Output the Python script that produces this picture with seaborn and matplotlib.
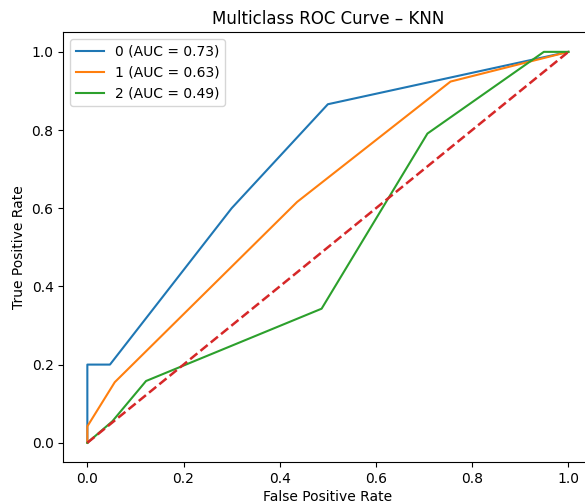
import numpy as np
import pandas as pd
import matplotlib
matplotlib.use("Agg")
import matplotlib.pyplot as plt
import seaborn as sns

# roc points, one class at a time
fpr_0 = [0.0, 0.0, 0.047, 0.30, 0.50, 1.0]
tpr_0 = [0.0, 0.20, 0.20, 0.60, 0.866, 1.0]

fpr_1 = [0.0, 0.0, 0.057, 0.436, 0.755, 1.0]
tpr_1 = [0.0, 0.042, 0.155, 0.616, 0.924, 1.0]

fpr_2 = [0.0, 0.052, 0.122, 0.487, 0.707, 0.949, 1.0]
tpr_2 = [0.0, 0.055, 0.158, 0.343, 0.791, 1.0, 1.0]

classes = ["0", "1", "2"]
auc_vals = [0.73, 0.63, 0.49]
colors = ["tab:blue", "tab:orange", "tab:green"]

fig = plt.figure(figsize=(5.85, 5.04), dpi=100)
# axes runs a bit past the right edge, like the original crop
ax = fig.add_axes([0.1082, 0.0827, 0.9045, 0.8532])

for cls, auc, fpr, tpr, col in zip(classes, auc_vals, [fpr_0, fpr_1, fpr_2], [tpr_0, tpr_1, tpr_2], colors):
    df = pd.DataFrame({"fpr": fpr, "tpr": tpr})
    sns.lineplot(data=df, x="fpr", y="tpr", sort=False, estimator=None, color=col,
                 linewidth=1.5, label=f"{cls} (AUC = {auc:.2f})", ax=ax)

#chance line
ax.plot([0, 1], [0, 1], color="tab:red", linestyle="--", linewidth=1.8)

ax.set_xlim(-0.05, 1.05)
ax.set_ylim(-0.05, 1.05)
ax.set_title("Multiclass ROC Curve – KNN")
ax.set_xlabel("False Positive Rate", labelpad=2.5)
ax.set_ylabel("True Positive Rate")
ax.legend(loc="upper left")

fig.savefig("out.png", dpi=100)
